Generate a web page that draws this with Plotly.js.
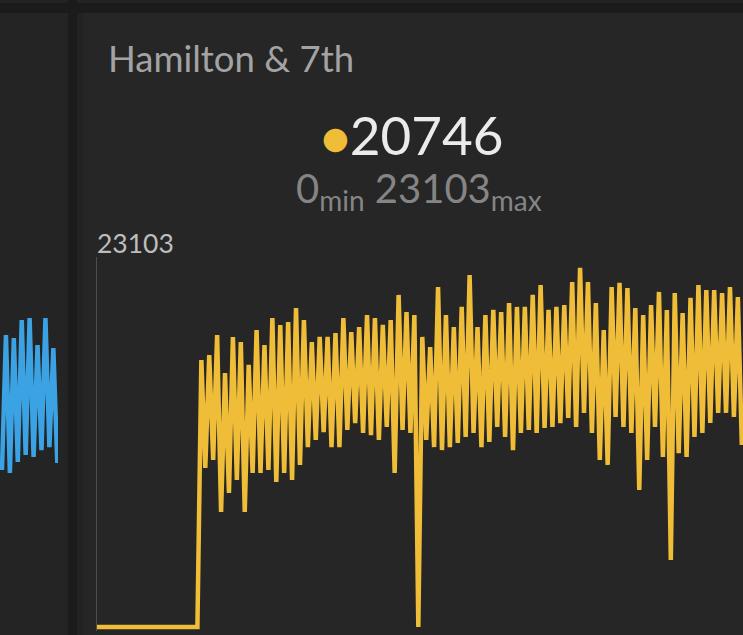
<!DOCTYPE html>
<html>
<head>
<meta charset="utf-8">
<script src="https://cdn.plot.ly/plotly-3.0.1.min.js"></script>
<style>
  html, body { margin: 0; padding: 0; background: #262626; }
  #myDiv { width: 743px; height: 635px; }
</style>
</head>
<body>
<div id="myDiv"></div>
<script>
// Hamilton & 7th panel: flat at zero, then alternating peak / trough samples
var hamiltonLead = [0, 0, 0, 0, 0, 0, 0, 0, 0, 0, 0, 0, 0, 0,
                    0, 0, 0, 0, 0, 0, 0, 0, 0, 0, 0, 0, 0];

var hamiltonPeaks = [
  16900, 17220, 18480, 16080, 18360, 18040, 16590, 18800, 17850, 19560, 19120, 19310, 20190, 19430, 18040, 18360, 18360,
  18610, 19560, 18670, 18990, 19750, 19560, 19120, 19430, 21020, 19940, 19750, 18360, 17720, 21520, 19750, 18990, 20260,
  22280, 18990, 19750, 20070, 19940, 20510, 20260, 20260, 21020, 21650, 20070, 20260, 20380, 21840, 22730, 21840, 20510,
  18800, 21520, 21780, 21460, 20190, 19750, 20380, 21210, 20070, 21140, 19880, 20830, 21650, 21330, 21330, 21140, 21520, 20890
];

var hamiltonTroughs = [
  10070, 10570, 7280, 8480, 9310, 7280, 9750, 9750, 9940, 9180, 9750, 9310, 10260, 11390, 11840, 12340, 11390,
  11390, 12470, 12910, 12280, 12150, 11840, 12660, 9750, 12470, 12280, 0, 11840, 11390, 11200, 11390, 11650, 12030,
  12280, 11390, 11710, 12660, 12030, 11200, 12280, 12470, 12280, 12600, 12660, 12910, 13230, 12660, 13550, 12280, 10570,
  10260, 13290, 12660, 12280, 8670, 10570, 12660, 10760, 4240, 11010, 10760, 12030, 12280, 12910, 13550, 13550, 13290, 11520
];

// tail of the neighbouring (cut off) panel on the left
var leftPanelValues = [9940, 18480, 9750, 18290, 10450, 19430, 10890, 19560, 10760, 17850, 11200, 19560, 11390, 17660, 10380];

var panelTitle = 'Hamilton & 7th';
var currentValue = 20746;
var minValue = 0;
var maxValue = 23103;

var hamiltonValues = hamiltonLead.slice();
for (var i = 0; i < hamiltonPeaks.length; i++) {
  hamiltonValues.push(hamiltonPeaks[i]);
  hamiltonValues.push(hamiltonTroughs[i]);
}
var hamiltonX = hamiltonValues.map(function (v, i) { return i; });
var leftX = leftPanelValues.map(function (v, i) { return i; });

var W = 743, H = 635;
function px(x) { return x / W; }
function py(y) { return 1 - y / H; }

var data = [
  {
    x: hamiltonX,
    y: hamiltonValues,
    type: 'scatter',
    mode: 'lines',
    line: { color: '#f0bd38', width: 4.5 },
    xaxis: 'x',
    yaxis: 'y',
    hoverinfo: 'skip'
  },
  {
    x: leftX,
    y: leftPanelValues,
    type: 'scatter',
    mode: 'lines',
    line: { color: '#3ba2e4', width: 4.5 },
    xaxis: 'x2',
    yaxis: 'y2',
    hoverinfo: 'skip'
  }
];

var yDomain = [py(631), py(257)];
var yRange = [-253, 23421];

var layout = {
  width: W,
  height: H,
  margin: { l: 0, r: 0, t: 0, b: 0 },
  paper_bgcolor: '#262626',
  plot_bgcolor: 'rgba(0,0,0,0)',
  showlegend: false,
  font: { family: 'Lato, sans-serif', color: '#9e9e9e' },
  xaxis: {
    domain: [px(97), 1],
    range: [0.55, 164.3],
    visible: false,
    fixedrange: true
  },
  yaxis: {
    domain: yDomain,
    range: yRange,
    anchor: 'x',
    showline: true,
    linecolor: '#4d4d4d',
    linewidth: 1.5,
    showgrid: false,
    zeroline: false,
    showticklabels: false,
    ticks: '',
    fixedrange: true
  },
  xaxis2: {
    domain: [0, px(58)],
    range: [-0.5, 14.18],
    anchor: 'y2',
    visible: false,
    fixedrange: true
  },
  yaxis2: {
    domain: yDomain,
    range: yRange,
    anchor: 'x2',
    visible: false,
    fixedrange: true
  },
  shapes: [
    // top strip
    { type: 'rect', xref: 'paper', yref: 'paper', x0: 0, x1: 1, y0: py(3), y1: 1,
      fillcolor: '#232323', line: { width: 0 }, layer: 'below' },
    { type: 'rect', xref: 'paper', yref: 'paper', x0: 0, x1: 1, y0: py(13), y1: py(3),
      fillcolor: '#1b1b1b', line: { width: 0 }, layer: 'below' },
    // divider between panels
    { type: 'rect', xref: 'paper', yref: 'paper', x0: px(68), x1: px(77), y0: 0, y1: 1,
      fillcolor: '#1b1b1b', line: { width: 0 }, layer: 'below' },
    { type: 'rect', xref: 'paper', yref: 'paper', x0: px(77), x1: px(83), y0: 0, y1: py(13),
      fillcolor: '#222222', line: { width: 0 }, layer: 'below' },
    { type: 'rect', xref: 'paper', yref: 'paper', x0: 0, x1: px(68), y0: 0, y1: py(13),
      fillcolor: '#242424', line: { width: 0 }, layer: 'below' }
  ],
  annotations: [
    {
      xref: 'paper', yref: 'paper', x: px(106), y: py(58),
      xanchor: 'left', yanchor: 'middle', showarrow: false,
      text: panelTitle,
      font: { family: 'Lato', size: 36.5, color: '#a3a3a3' }
    },
    {
      xref: 'paper', yref: 'paper', x: px(412), y: py(134),
      xanchor: 'center', yanchor: 'middle', showarrow: false,
      text: '<span style="color:#f0bd38;font-size:48px">●</span>' + currentValue,
      font: { family: 'Lato', size: 53, color: '#ebebeb' }
    },
    {
      xref: 'paper', yref: 'paper', x: px(419), y: py(190),
      xanchor: 'center', yanchor: 'middle', showarrow: false,
      text: minValue + '<sub>min</sub> ' + maxValue + '<sub>max</sub>',
      font: { family: 'Lato', size: 40, color: '#858585' }
    },
    {
      xref: 'paper', yref: 'paper', x: px(95), y: py(243),
      xanchor: 'left', yanchor: 'middle', showarrow: false,
      text: String(maxValue),
      font: { family: 'Lato', size: 26.5, color: '#bdbdbd' }
    }
  ]
};

Plotly.newPlot('myDiv', data, layout, { displayModeBar: false, staticPlot: true });
</script>
</body>
</html>
